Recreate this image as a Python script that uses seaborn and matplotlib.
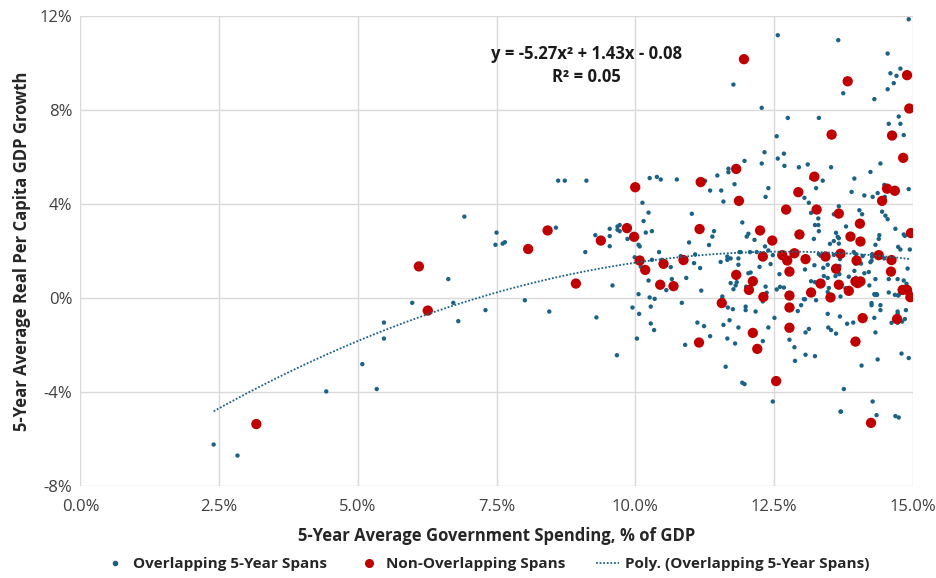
import seaborn as sns
import matplotlib.pyplot as plt
import matplotlib.ticker as mticker
from matplotlib.lines import Line2D
import pandas as pd

# overlapping 5-year spans: spending (% of GDP) vs growth (%)
overlap_x = [2.40, 2.83, 4.43, 5.08, 5.34, 5.47, 5.47, 5.98, 6.63, 6.72, 6.81, 6.92, 7.30, 7.50, 7.48,
             8.61, 8.73, 9.12, 7.61, 7.65, 8.57, 9.10, 9.28, 9.54, 9.54, 9.54, 9.68, 9.72, 9.68, 9.72,
             9.86, 9.90, 9.99, 10.06, 9.59, 10.06, 8.01, 8.45, 9.30, 9.95, 10.07, 10.03, 9.67,
             10.26, 10.39, 10.46, 10.75, 11.26, 11.35, 11.48, 11.55, 11.59, 11.68, 11.68, 11.79, 11.97,
             12.28, 12.33, 12.35, 12.40, 10.13, 10.24, 10.15, 11.02, 11.93, 10.19, 10.30, 11.42, 11.39,
             10.97, 11.33, 12.04, 12.01, 12.15, 12.34, 10.08, 10.43, 10.30, 10.48, 10.64, 10.10, 10.82,
             11.08, 11.06, 11.17, 11.54, 11.66, 11.66, 11.72, 11.86, 11.88, 11.90, 11.86, 12.07, 12.19,
             12.40, 12.24, 12.04, 12.08, 11.72, 11.81, 11.83, 11.77, 12.00, 12.35, 10.24, 10.66, 10.92,
             10.56, 11.19, 10.26, 10.35, 11.57, 11.57,
             11.67, 11.76, 11.99, 11.99, 12.17, 12.30, 12.37, 10.28, 10.84, 10.28, 10.34, 11.12, 11.24,
             11.35, 10.90, 11.59, 11.70, 11.86, 11.66, 11.80, 12.30, 12.40, 12.19, 11.63, 11.93, 11.97,
             12.57, 13.66, 11.77, 12.28, 12.75, 13.31, 12.55, 12.68, 12.57, 12.69, 12.95, 13.11, 13.53,
             14.93, 14.55, 14.78, 14.60, 14.71, 14.66, 14.55, 13.75, 14.31, 14.75, 14.57, 14.78, 14.84, 14.42,
             13.17, 13.38, 13.26, 13.05, 13.13, 13.17, 13.58, 13.67, 13.30, 13.24, 13.30, 13.31, 13.62,
             13.65, 13.22, 13.51, 13.58, 13.31, 13.34, 12.48, 12.82, 13.58, 13.69, 13.23, 13.39, 13.47,
             12.44, 13.06, 12.60, 12.76, 13.68, 13.40, 13.47, 13.61, 13.17, 13.24, 12.61, 12.68, 12.55,
             13.49, 13.47, 13.06,
             14.24, 13.95, 14.49, 14.93, 13.90, 14.13, 14.28, 14.37, 14.50, 14.04, 14.09, 14.45, 14.51,
             14.55, 13.80, 14.69, 14.84, 14.86, 14.40, 14.39, 14.33, 13.67, 13.67, 14.74, 14.78, 14.95,
             13.94, 13.98, 14.10, 14.27, 14.27, 14.24, 14.26, 14.49, 13.69, 13.68, 13.97, 14.07, 13.95,
             14.13, 14.21, 14.91, 13.85, 13.98, 14.33, 14.57, 14.73, 14.84, 14.89, 14.22, 13.79, 14.57,
             14.31, 14.35, 14.74, 14.96,
             13.04, 13.26, 12.99, 12.93, 12.51, 13.47, 13.69, 13.07, 13.13, 13.48, 13.53, 13.62, 12.78,
             12.87, 13.07, 13.24, 12.88, 12.48, 13.70,
             13.70, 14.32, 14.36, 14.68, 14.75, 14.26, 14.26, 14.42, 14.42, 14.73, 14.73, 14.88, 14.31,
             14.69, 14.86, 14.81, 14.62, 14.73, 13.82, 13.93, 14.33, 14.80, 14.93, 14.37, 14.08, 13.76,
             14.28, 13.71, 14.35, 14.69, 14.75]
overlap_y = [-6.23, -6.70, -3.97, -2.81, -3.87, -1.04, -1.72, -0.20, 0.81, -0.20, -0.98, 3.47, -0.51, 2.79, 2.27,
             5.00, 5.00, 5.00, 2.32, 2.38, 3.00, 1.96, 2.68, 2.95, 2.64, 2.21, 3.05, 3.11, 2.91, 2.85,
             2.52, 3.00, 1.74, 2.27, 0.54, 0.17, -0.09, -0.57, -0.82, -0.40, -0.67, -1.72, -2.43,
             5.11, 5.16, 5.05, 5.05, 4.99, 4.58, 5.22, 4.58, 4.11, 5.51, 5.36, 4.85, 5.84,
             5.73, 6.21, 4.31, 4.68, 4.06, 3.64, 3.28, 3.59, 3.22, 2.79, 2.85, 2.85, 2.62,
             2.37, 2.26, 2.74, 2.62, 2.48, 2.20, 2.20, 1.96, 1.63, 1.63, 1.32, 1.34, 1.79,
             1.86, 1.49, 1.28, 1.54, 1.77, 1.63, 1.69, 1.69, 1.96, 1.96, 1.42, 1.96, 1.96,
             2.03, 1.33, 1.06, 1.09, 0.64, 0.54, 0.68, 0.38, 0.49, 0.49, 0.75, 0.81, 0.86,
             0.34, 0.32, 0.03, -0.03, 0.07, -0.02,
             -0.40, -0.47, -0.36, -0.51, -0.57, -0.14, 0.23, -0.36, -0.20, -1.08, -1.36, -1.04, -1.19,
             -1.62, -1.99, -1.14, -0.94, -1.25, -1.72, -1.93, -1.83, -1.25, -2.05, -2.92, -3.60, -3.66,
             11.19, 10.98, 9.09, 8.10, 7.67, 7.67, 6.89, 6.15, 5.94, 5.63, 5.57, 5.69, 5.57,
             11.87, 10.41, 9.77, 9.57, 9.46, 9.15, 8.89, 8.72, 8.47, 7.73, 7.42, 7.42, 6.94, 5.73,
             5.11, 5.00, 4.68, 4.27, 4.06, 3.63, 3.57, 3.91, 3.39, 3.11, 3.11, 2.85, 2.78,
             2.61, 2.52, 2.31, 2.43, 1.87, 1.81, 1.83, 1.81, 1.84, 1.90, 1.40, 1.29, 1.42,
             1.45, 1.22, 1.02, 1.03, 1.02, 0.94, 0.86, 0.94, 0.72, 0.68, 0.48, 0.45, 0.37,
             0.43, 0.26, -0.05,
             5.37, 5.09, 4.82, 4.64, 4.52, 4.37, 4.31, 4.47, 4.31, 3.74, 3.57, 3.68, 3.51,
             3.36, 3.05, 2.95, 2.71, 2.65, 2.68, 2.52, 2.27, 2.55, 2.32, 2.18, 2.07, 2.07,
             1.96, 1.87, 1.79, 1.87, 1.76, 1.53, 1.59, 1.69, 1.66, 1.37, 1.47, 1.47, 1.16,
             1.06, 1.11, 1.26, 0.91, 0.86, 0.81, 0.81, 0.81, 0.75, 0.61, 0.54, 0.42, 0.24,
             0.17, 0.17, 0.11, 0.24,
             -0.04, -0.09, -0.30, -0.55, -0.84, -0.67, -0.78, -1.46, -1.31, -1.25, -1.36, -1.51, -1.77,
             -2.09, -2.41, -2.47, -2.67, -4.40, -4.83,
             0.07, 0.14, 0.14, 0.14, 0.14, -0.21, -0.30, -0.30, -0.51, -0.57, -0.66, -0.51, -0.84,
             -0.80, -0.89, -1.00, -1.05, -1.05, -1.09, -1.04, -1.46, -2.36, -2.55, -2.61, -2.87, -3.87,
             -4.40, -4.83, -4.98, -5.02, -5.08]

# non-overlapping spans
nonoverlap_x = [3.17, 6.10, 6.26, 8.42, 8.07, 9.38, 9.85, 9.98, 10.08, 8.93, 10.00, 11.18, 11.82, 11.87,
                11.16, 12.25, 10.51, 10.18, 10.87, 12.30, 11.82, 12.12, 12.05, 12.31, 10.45, 10.69, 11.56,
                11.15, 12.12, 12.20, 11.96, 13.54, 13.83, 14.90, 14.94, 14.63, 14.83, 13.23, 12.94, 12.72,
                13.27, 13.67, 12.96, 12.47, 12.87, 12.65, 12.74, 13.07, 13.43, 13.62, 12.78, 13.34, 13.67,
                12.78, 13.17, 13.52, 14.54, 14.68, 14.45, 14.05, 14.97, 13.88, 14.06, 13.70, 14.39, 13.99,
                14.62, 14.61, 13.97, 14.06, 14.01, 13.85, 14.82, 14.90, 14.96, 12.78, 12.78, 12.54, 14.10,
                14.72, 13.97, 14.25]
nonoverlap_y = [-5.36, 1.35, -0.53, 2.88, 2.09, 2.45, 2.98, 2.61, 1.60, 0.62, 4.72, 4.94, 5.50, 4.14,
                2.94, 2.88, 1.46, 1.20, 1.62, 1.77, 0.99, 0.72, 0.35, 0.05, 0.57, 0.51, -0.21,
                -1.89, -1.48, -2.16, 10.17, 6.96, 9.23, 9.49, 8.07, 6.92, 5.97, 5.17, 4.51, 3.77,
                3.77, 3.60, 2.71, 2.45, 1.91, 1.83, 1.60, 1.66, 1.77, 1.25, 1.13, 0.62, 0.57,
                0.11, 0.24, 0.03, 4.66, 4.57, 4.14, 3.17, 2.77, 2.62, 2.41, 1.89, 1.83, 1.60,
                1.62, 1.13, 0.71, 0.71, 0.64, 0.31, 0.35, 0.35, 0.04, -0.40, -1.26, -3.53, -0.85,
                -0.89, -1.85, -5.31]

x_ticks = [0, 2.5, 5, 7.5, 10, 12.5, 15]
y_ticks = [-8, -4, 0, 4, 8, 12]
equation_text = "y = -5.27x\u00b2 + 1.43x - 0.08\nR\u00b2 = 0.05"

TEAL = "#1b6386"
RED = "#c00000"

sns.set_theme(style="white")
plt.rcParams['font.family'] = ['Open Sans', 'DejaVu Sans']

df_over = pd.DataFrame({'spend': overlap_x, 'growth': overlap_y})
df_non = pd.DataFrame({'spend': nonoverlap_x, 'growth': nonoverlap_y})

fig = plt.figure(figsize=(9.36, 5.78), dpi=100)
ax = fig.add_axes([0.086, 0.159, 0.889, 0.813])

sns.scatterplot(data=df_over, x='spend', y='growth', s=10, color=TEAL, edgecolor='none', ax=ax, zorder=3)
sns.scatterplot(data=df_non, x='spend', y='growth', s=55, color=RED, edgecolor='none', ax=ax, zorder=4)
sns.regplot(data=df_over, x='spend', y='growth', order=2, scatter=False, ci=None, truncate=True, ax=ax,
            line_kws={'color': TEAL, 'linestyle': (0, (1, 1)), 'linewidth': 1.3, 'zorder': 5})

ax.set_xlim(0, 15)
ax.set_ylim(-8, 12)
ax.set_xticks(x_ticks)
ax.set_yticks(y_ticks)
ax.xaxis.set_major_formatter(mticker.FuncFormatter(lambda v, p: f"{v:.1f}%"))
ax.yaxis.set_major_formatter(mticker.FuncFormatter(lambda v, p: f"{v:.0f}%"))
ax.tick_params(axis='both', labelsize=12, colors='#404040', length=0)
ax.tick_params(axis='x', pad=9)
ax.tick_params(axis='y', pad=6)
ax.grid(True, color='#d9d9d9', linewidth=1)
for s in ax.spines.values():
    s.set_visible(False)

ax.set_xlabel("5-Year Average Government Spending, % of GDP", fontsize=12, fontweight='bold', labelpad=9)
ax.set_ylabel("5-Year Average Real Per Capita GDP Growth", fontsize=12, fontweight='bold', labelpad=6)

ax.text(9.12, 9.9, equation_text, ha='center', va='center', fontsize=12, fontweight='bold',
        linespacing=1.3, color='#1a1a1a')

handles = [
    Line2D([], [], marker='o', linestyle='none', color=TEAL, markersize=3),
    Line2D([], [], marker='o', linestyle='none', color=RED, markersize=5.5),
    Line2D([], [], color=TEAL, linestyle=(0, (1, 1)), linewidth=1.3),
]
labels = ["Overlapping 5-Year Spans", "Non-Overlapping Spans", "Poly. (Overlapping 5-Year Spans)"]
fig.legend(handles, labels, loc='lower center', bbox_to_anchor=(0.52, -0.012), ncol=3, frameon=False,
           prop={'size': 11, 'weight': 'bold'}, handlelength=1.5, handletextpad=0.4, columnspacing=2.0)

fig.savefig("out.png", dpi=100)
